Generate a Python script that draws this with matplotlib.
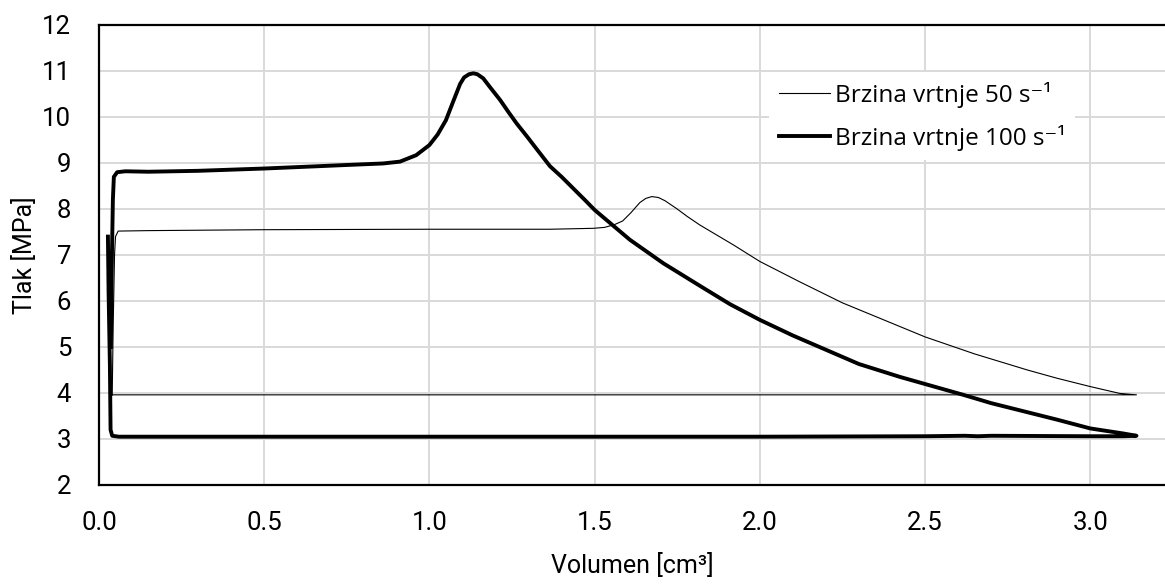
import matplotlib
matplotlib.use('Agg')
import matplotlib.pyplot as plt

# ── data ─────────────────────────────────────────────────────
# Brzina vrtnje 50 s^-1 (thin loop)
vol_50 = [0.040, 0.043, 0.047, 0.050, 0.058, 0.15, 0.50, 1.00, 1.365, 1.496,
          1.53, 1.56, 1.585, 1.61, 1.637, 1.655, 1.673, 1.693, 1.713, 1.748,
          1.78, 1.819, 1.92, 2.00, 2.12, 2.25, 2.50, 2.65, 2.81, 2.90, 3.00,
          3.09, 3.14,
          3.00, 2.00, 1.00, 0.040]
p_50 = [3.96, 5.50, 7.00, 7.40, 7.52, 7.53, 7.55, 7.56, 7.56, 7.58,
        7.60, 7.66, 7.74, 7.92, 8.14, 8.23, 8.27, 8.25, 8.18, 8.01,
        7.84, 7.65, 7.22, 6.86, 6.42, 5.96, 5.22, 4.85, 4.50, 4.32, 4.14,
        3.99, 3.96,
        3.96, 3.96, 3.96, 3.96]

# Brzina vrtnje 100 s^-1 (thick loop)
vol_100 = [0.027, 0.029, 0.033, 0.035, 0.040, 0.060, 0.50, 1.00, 1.50, 2.00,
           2.50, 2.62, 2.66, 2.70, 3.00, 3.10, 3.14,
           3.10, 3.00, 2.90, 2.80, 2.70, 2.616, 2.424, 2.30, 2.20, 2.10,
           2.00, 1.91, 1.83, 1.708, 1.607, 1.50, 1.47, 1.435, 1.40, 1.365,
           1.325, 1.295, 1.264, 1.24, 1.214, 1.18, 1.163, 1.145, 1.133,
           1.120, 1.105, 1.093, 1.07, 1.05, 1.025, 1.00, 0.96, 0.911, 0.86,
           0.76, 0.50, 0.30, 0.15, 0.08, 0.055, 0.045, 0.042, 0.038, 0.036]
p_100 = [7.40, 6.20, 4.60, 3.20, 3.07, 3.05, 3.05, 3.05, 3.05, 3.05,
         3.06, 3.07, 3.06, 3.07, 3.06, 3.06, 3.07,
         3.12, 3.23, 3.42, 3.60, 3.78, 3.96, 4.35, 4.63, 4.94, 5.25,
         5.59, 5.93, 6.28, 6.82, 7.33, 7.98, 8.20, 8.45, 8.70, 8.93,
         9.30, 9.58, 9.86, 10.10, 10.37, 10.68, 10.84, 10.93, 10.95,
         10.93, 10.86, 10.72, 10.30, 9.93, 9.62, 9.39, 9.17, 9.03, 8.99,
         8.96, 8.88, 8.83, 8.81, 8.82, 8.80, 8.70, 8.20, 6.50, 5.00]

labels = ['Brzina vrtnje 50 s\u207b\u00b9', 'Brzina vrtnje 100 s\u207b\u00b9']
x_ticks = [0.0, 0.5, 1.0, 1.5, 2.0, 2.5, 3.0]
y_ticks = list(range(2, 13))

GRID = '#d9d9d9'
TICK_FONT = ['Roboto', 'DejaVu Sans']
LEG_FONT = ['Open Sans', 'DejaVu Sans']

fig = plt.figure(figsize=(11.65, 5.84), dpi=100, facecolor='white')
ax = fig.add_axes([99 / 1165, 1 - 485 / 584, 1 - 99 / 1165, 460 / 584])

ax.plot(vol_50, p_50, color='black', lw=0.8, label=labels[0], zorder=3)
ax.plot(vol_100, p_100, color='black', lw=2.8, label=labels[1], zorder=3,
        solid_joinstyle='round')

ax.set_xlim(0, 1066 / 330.4)
ax.set_ylim(2, 12)
ax.set_xticks(x_ticks)
ax.set_yticks(y_ticks)
ax.set_xticklabels([f'{v:.1f}' for v in x_ticks], family=TICK_FONT, fontsize=18.5)
ax.set_yticklabels([str(v) for v in y_ticks], family=TICK_FONT, fontsize=18.5)
ax.tick_params(length=0)
ax.tick_params(axis='y', pad=20)
ax.tick_params(axis='x', pad=19)

ax.grid(color=GRID, lw=1.4, zorder=0)
ax.set_axisbelow(True)
for side in ['left', 'bottom', 'top']:
    ax.spines[side].set_color('black')
    ax.spines[side].set_linewidth(1.6)
ax.spines['right'].set_visible(False)

ax.set_xlabel('Volumen [cm\u00b3]', family=TICK_FONT, fontsize=18, labelpad=13)
ax.set_ylabel('Tlak [MPa]', family=TICK_FONT, fontsize=18, labelpad=4)

leg = ax.legend(loc='upper left', bbox_to_anchor=((769 - 99) / 1066, (485 - 72) / 460),
                borderaxespad=0, borderpad=0.4, handlelength=2.1,
                handletextpad=0.2, labelspacing=0.7, frameon=True,
                fancybox=False, framealpha=1,
                prop={'family': LEG_FONT, 'size': 17.5})
leg.get_frame().set_edgecolor('none')
leg.get_frame().set_facecolor('white')

fig.savefig('out.png', dpi=100, facecolor='white')
